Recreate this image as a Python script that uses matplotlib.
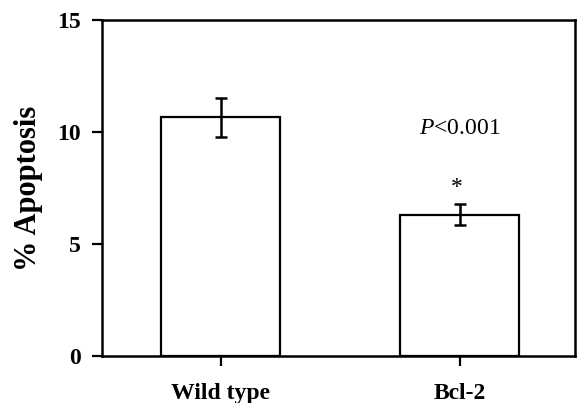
import matplotlib.pyplot as plt
import numpy as np

groups = ["Wild type", "Bcl-2"]
means = [10.65, 6.3]
errs = [0.88, 0.47]
yticks = [0, 5, 10, 15]

plt.rcParams['font.family'] = 'Liberation Serif'
plt.rcParams['mathtext.fontset'] = 'custom'
plt.rcParams['mathtext.it'] = 'Liberation Serif:italic'
plt.rcParams['mathtext.rm'] = 'Liberation Serif'

fig = plt.figure(figsize=(5.84, 4.03), dpi=100)
ax = fig.add_axes([0.1747, 0.1166, 0.81, 0.8338])

x = np.arange(len(groups))
ax.bar(x, means, width=0.5, color='white', edgecolor='black', linewidth=1.6, zorder=2)
ax.errorbar(x, means, yerr=errs, fmt='none', ecolor='black', elinewidth=1.8,
            capsize=4.3, capthick=1.8, zorder=3)

ax.text(x[1] - 0.01, means[1] + errs[1] + 0.75, '*', ha='center', va='center', fontsize=17)
ax.text(x[1], 10.15, r'$\it{P}$<0.001', ha='center', va='center', fontsize=17)

ax.set_xlim(-0.496, 1.483)
ax.set_ylim(0, 15)
ax.set_xticks(x)
ax.set_xticklabels(groups, fontsize=17, fontweight='bold')
ax.set_yticks(yticks)
ax.set_yticklabels([str(t) for t in yticks], fontsize=17, fontweight='bold')
ax.set_ylabel('% Apoptosis', fontsize=22, fontweight='bold', labelpad=10)
ax.tick_params(axis='both', direction='out', length=7.5, width=1.6, pad=8)
ax.tick_params(axis='x', pad=12)
for s in ax.spines.values():
    s.set_linewidth(1.8)

fig.savefig('out.png', dpi=100)
